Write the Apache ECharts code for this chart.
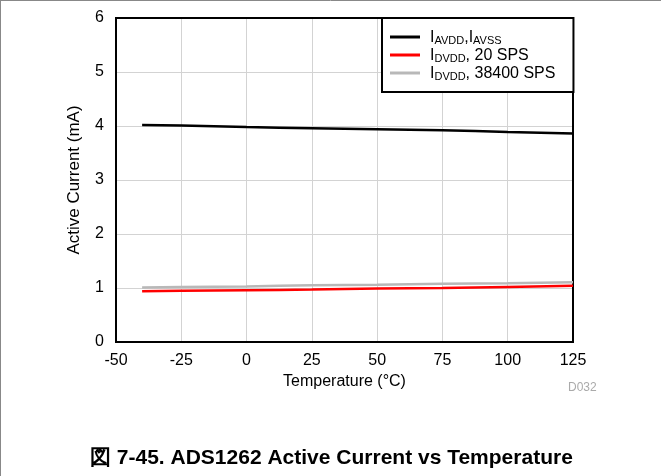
<!DOCTYPE html>
<html><head><meta charset="utf-8">
<script src="https://cdn.jsdelivr.net/npm/echarts@6/dist/echarts.min.js"></script>
<style>html,body{margin:0;padding:0;background:#fff}#c{width:661px;height:476px}</style>
</head><body><div id="c"></div>
<script>
const temps = [-40, -25, 0, 25, 50, 75, 100, 125];
const iAvdd = [4.02, 4.01, 3.98, 3.96, 3.94, 3.92, 3.89, 3.86];
const iDvdd20 = [0.94, 0.95, 0.96, 0.97, 0.99, 1.00, 1.02, 1.04];
const iDvdd38400 = [1.01, 1.02, 1.03, 1.05, 1.06, 1.08, 1.09, 1.105];
const seriesNames = ['IAVDD,IAVSS', 'IDVDD, 20 SPS', 'IDVDD, 38400 SPS'];
const xTicks = [-50, -25, 0, 25, 50, 75, 100, 125];
const yTicks = [0, 1, 2, 3, 4, 5, 6];

const FF = '"Liberation Sans", Arial, sans-serif';
const pair = (xs, ys) => xs.map((x, i) => [x, ys[i]]);
const legendFmt = {
  'IAVDD,IAVSS': '{n|I}{s|AVDD}{n|,I}{s|AVSS}',
  'IDVDD, 20 SPS': '{n|I}{s|DVDD}{n|, 20 SPS}',
  'IDVDD, 38400 SPS': '{n|I}{s|DVDD}{n|, 38400 SPS}'
};
const lineIcon = 'path://M0,0H30V3H0Z';
const chart = echarts.init(document.getElementById('c'), null, {renderer: 'canvas'});
chart.setOption({
  animation: false,
  backgroundColor: '#fff',
  grid: {left: 116, right: 88, top: 18, bottom: 134, show: true, borderColor: '#000', borderWidth: 2, z: 3},
  xAxis: {
    type: 'value', min: xTicks[0], max: xTicks[xTicks.length - 1], interval: 25,
    name: 'Temperature (°C)', nameLocation: 'middle', nameGap: 32,
    nameTextStyle: {fontFamily: FF, fontSize: 16, color: '#000'},
    axisLine: {show: false}, axisTick: {show: false},
    axisLabel: {fontFamily: FF, fontSize: 16, color: '#000', margin: 11},
    splitLine: {show: true, lineStyle: {color: '#d3d3d3', width: 1}}
  },
  yAxis: {
    type: 'value', min: yTicks[0], max: yTicks[yTicks.length - 1], interval: 1,
    name: 'Active Current (mA)', nameLocation: 'middle', nameGap: 33, nameRotate: 90,
    nameTextStyle: {fontFamily: FF, fontSize: 17, color: '#000'},
    axisLine: {show: false}, axisTick: {show: false},
    axisLabel: {fontFamily: FF, fontSize: 16, color: '#000', margin: 12},
    splitLine: {show: true, lineStyle: {color: '#d3d3d3', width: 1}}
  },
  legend: {
    orient: 'vertical', left: 382, top: 18,
    backgroundColor: '#fff', borderColor: '#000', borderWidth: 2,
    padding: [12, 18, 10, 8], itemGap: 2, itemWidth: 30, itemHeight: 3,
    data: seriesNames.map(n => ({name: n, icon: lineIcon})),
    formatter: n => legendFmt[n],
    textStyle: {
      fontFamily: FF, color: '#000', padding: [0, 0, 0, 5],
      rich: {
        n: {fontFamily: FF, fontSize: 16, color: '#000', lineHeight: 18, verticalAlign: 'bottom'},
        s: {fontFamily: FF, fontSize: 11, color: '#000', lineHeight: 12, verticalAlign: 'bottom'}
      }
    },
    z: 10
  },
  graphic: [
    {type: 'line', shape: {x1: 0.5, y1: 0, x2: 0.5, y2: 476}, style: {stroke: '#888', lineWidth: 1}},
    {type: 'line', shape: {x1: 0, y1: 0.5, x2: 661, y2: 0.5}, style: {stroke: '#888', lineWidth: 1}},
    {type: 'text', left: 568, top: 382, style: {text: 'D032', fill: '#aaa', font: '12px ' + FF}},
    {type: 'text', left: 90, top: 448, style: {text: '図 7-45. ADS1262 Active Current vs Temperature', fill: '#000', font: 'bold 21px ' + FF}}
  ],
  series: [
    {name: seriesNames[0], type: 'line', data: pair(temps, iAvdd), symbol: 'none', smooth: true,
     lineStyle: {color: '#000', width: 2.5}, itemStyle: {color: '#000'}, z: 4},
    {name: seriesNames[2], type: 'line', data: pair(temps, iDvdd38400), symbol: 'none', smooth: true,
     lineStyle: {color: '#b8b8b8', width: 2.5}, itemStyle: {color: '#b8b8b8'}, z: 4},
    {name: seriesNames[1], type: 'line', data: pair(temps, iDvdd20), symbol: 'none', smooth: true,
     lineStyle: {color: '#ff0000', width: 2.5}, itemStyle: {color: '#ff0000'}, z: 5}
  ]
});
</script></body></html>
